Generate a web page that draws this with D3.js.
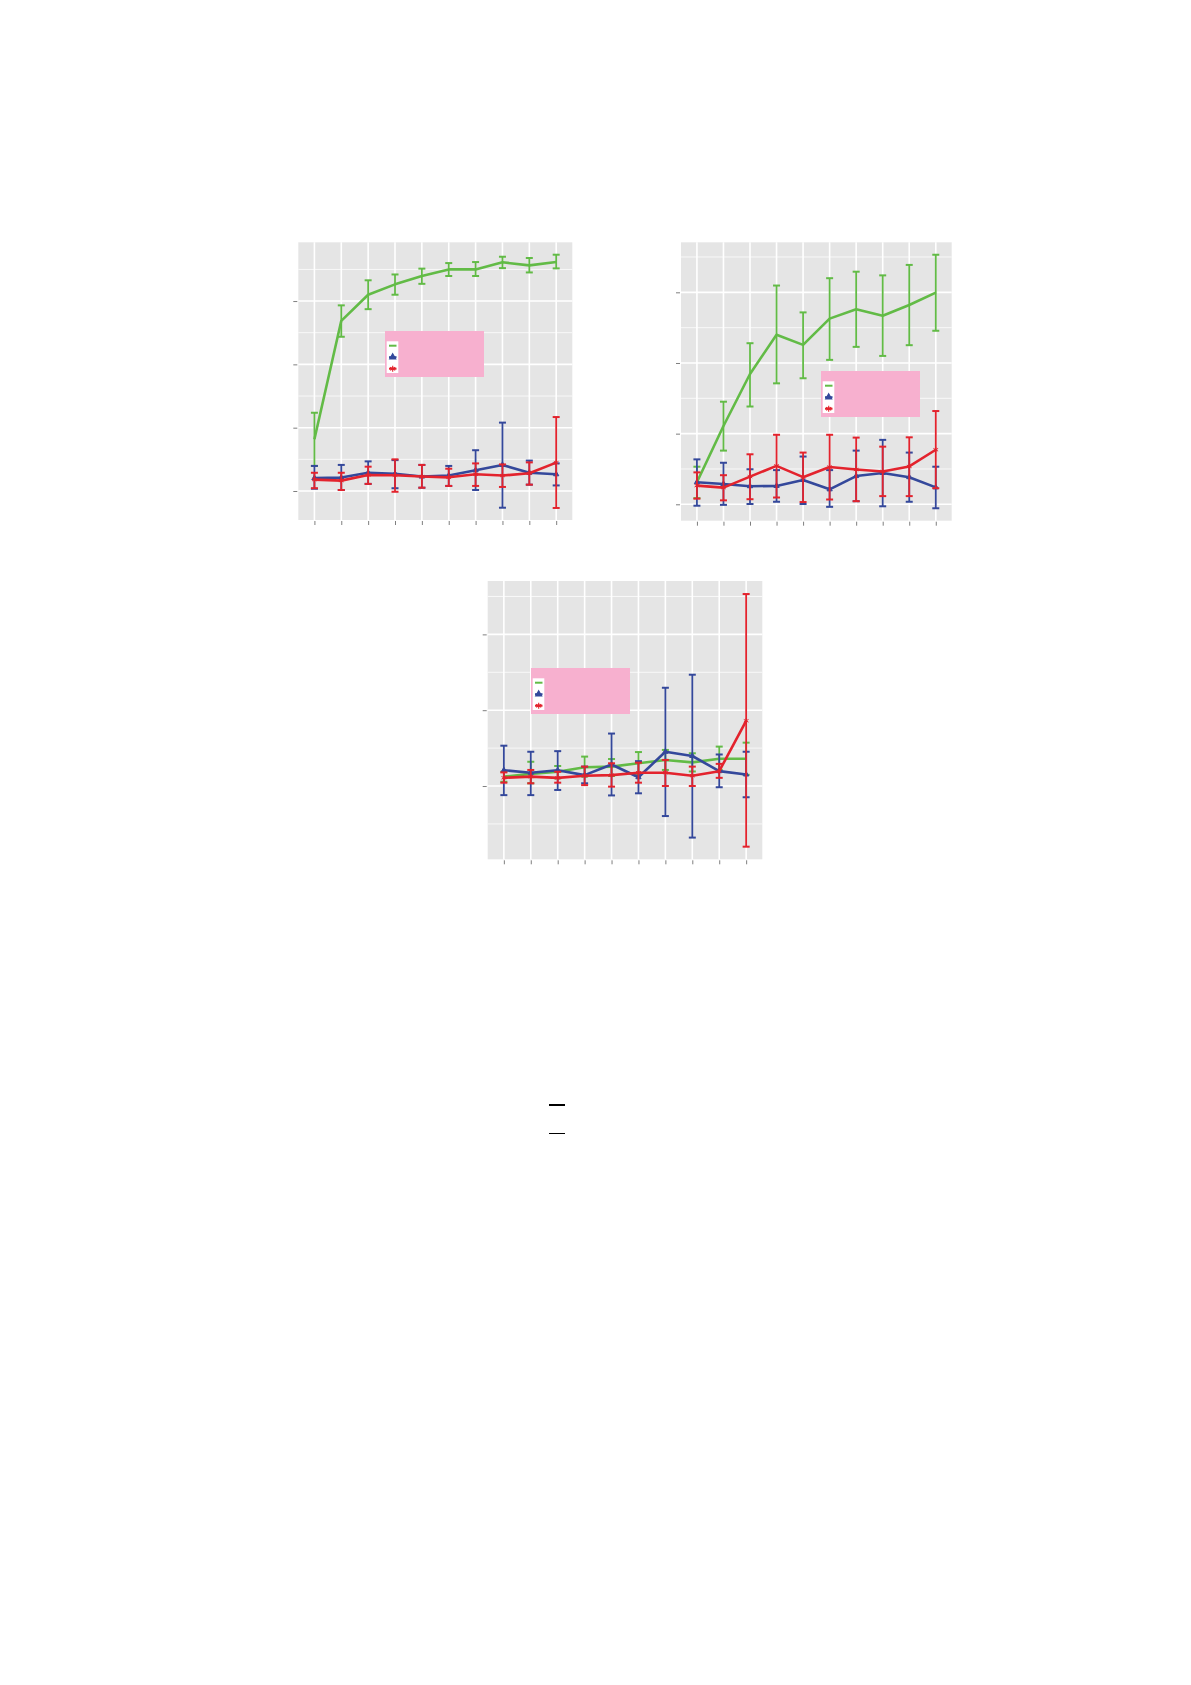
<!DOCTYPE html>
<html>
<head>
<meta charset="utf-8">
<script src="https://cdn.jsdelivr.net/npm/d3@7/dist/d3.min.js"></script>
<style>
  body { margin: 0; background: #fff; }
  svg { display: block; }
</style>
</head>
<body>
<svg id="chart" width="1191" height="1685"></svg>
<script>
// trial steps on the x axis
var steps = [1, 2, 3, 4, 5, 6, 7, 8, 9, 10];
var yTicks = [0, 0.25, 0.5, 0.75];

// panel 1 (top left)
var p1Green   = [0.204, 0.672, 0.775, 0.816, 0.849, 0.875, 0.875, 0.903, 0.891, 0.904];
var p1GreenLo = [0.099, 0.609, 0.718, 0.775, 0.818, 0.849, 0.849, 0.880, 0.863, 0.879];
var p1GreenHi = [0.309, 0.733, 0.832, 0.855, 0.878, 0.900, 0.904, 0.925, 0.920, 0.933];
var p1Blue    = [0.051, 0.053, 0.072, 0.068, 0.057, 0.061, 0.082, 0.103, 0.072, 0.066];
var p1BlueLo  = [0.009, 0.004, 0.028, 0.011, 0.013, 0.020, 0.004, -0.066, 0.025, 0.022];
var p1BlueHi  = [0.099, 0.103, 0.117, 0.122, 0.103, 0.099, 0.161, 0.270, 0.120, 0.109];
var p1Red     = [0.045, 0.041, 0.063, 0.062, 0.057, 0.054, 0.066, 0.061, 0.070, 0.112];
var p1RedLo   = [0.011, 0.004, 0.028, -0.003, 0.013, 0.020, 0.020, 0.016, 0.025, -0.067];
var p1RedHi   = [0.072, 0.072, 0.096, 0.125, 0.103, 0.088, 0.109, 0.105, 0.113, 0.292];

// panel 2 (top right)
var p2Green   = [0.078, 0.277, 0.461, 0.600, 0.564, 0.657, 0.690, 0.667, 0.705, 0.749];
var p2GreenLo = [0.022, 0.190, 0.346, 0.428, 0.446, 0.511, 0.557, 0.525, 0.563, 0.614];
var p2GreenHi = [0.133, 0.363, 0.570, 0.774, 0.679, 0.800, 0.823, 0.810, 0.847, 0.883];
var p2Blue    = [0.078, 0.072, 0.064, 0.065, 0.086, 0.053, 0.100, 0.111, 0.096, 0.060];
var p2BlueLo  = [-0.005, -0.002, 0.001, 0.009, 0.001, -0.009, 0.011, -0.007, 0.009, -0.014];
var p2BlueHi  = [0.159, 0.147, 0.124, 0.121, 0.169, 0.121, 0.190, 0.228, 0.183, 0.133];
var p2Red     = [0.066, 0.059, 0.098, 0.136, 0.096, 0.132, 0.123, 0.116, 0.134, 0.193];
var p2RedLo   = [0.020, 0.014, 0.018, 0.024, 0.008, 0.017, 0.011, 0.029, 0.029, 0.057];
var p2RedHi   = [0.113, 0.103, 0.177, 0.246, 0.183, 0.246, 0.236, 0.204, 0.237, 0.330];

// panel 3 (bottom)
var p3Green   = [0.031, 0.040, 0.047, 0.062, 0.064, 0.075, 0.086, 0.078, 0.090, 0.090];
var p3GreenLo = [0.014, 0.009, 0.025, 0.031, 0.033, 0.037, 0.053, 0.048, 0.053, 0.037];
var p3GreenHi = [0.047, 0.080, 0.066, 0.097, 0.089, 0.112, 0.119, 0.108, 0.130, 0.143];
var p3Blue    = [0.052, 0.044, 0.052, 0.036, 0.071, 0.029, 0.113, 0.099, 0.049, 0.038];
var p3BlueLo  = [-0.030, -0.030, -0.013, 0.009, -0.031, -0.024, -0.099, -0.170, -0.004, -0.037];
var p3BlueHi  = [0.133, 0.113, 0.115, 0.064, 0.173, 0.082, 0.324, 0.367, 0.104, 0.113];
var p3Red     = [0.027, 0.031, 0.027, 0.034, 0.036, 0.044, 0.044, 0.034, 0.049, 0.215];
var p3RedLo   = [0.011, 0.009, 0.011, 0.003, -0.002, 0.011, 0.000, 0.000, 0.027, -0.200];
var p3RedHi   = [0.045, 0.053, 0.047, 0.064, 0.075, 0.077, 0.086, 0.064, 0.073, 0.633];

var colors = { green: "#62bb46", blue: "#34489b", red: "#e3232d" };

var svg = d3.select("#chart");

// build one ggplot-like panel
function drawPanel(box, yDomain, ticks, series, legendPos) {
    var x = d3.scaleLinear().domain([0.4, 10.6]).range([box.x0, box.x1]);
    var y = d3.scaleLinear().domain(yDomain).range([box.y1, box.y0]);
    var g = svg.append("g");

    g.append("rect")
        .attr("x", box.x0).attr("y", box.y0)
        .attr("width", box.x1 - box.x0).attr("height", box.y1 - box.y0)
        .attr("fill", "#e5e5e5");

    // minor grid halfway between major ticks
    var half = (ticks[1] - ticks[0]) / 2;
    var minor = d3.range(-6, 8).map(k => ticks[0] + half * (2 * k + 1))
        .filter(v => v > yDomain[0] && v < yDomain[1]);

    g.selectAll(".minor").data(minor).enter().append("line")
        .attr("x1", box.x0).attr("x2", box.x1)
        .attr("y1", d => y(d)).attr("y2", d => y(d))
        .attr("stroke", "#fafafa").attr("stroke-width", 0.9);

    g.selectAll(".major").data(ticks).enter().append("line")
        .attr("x1", box.x0).attr("x2", box.x1)
        .attr("y1", d => y(d)).attr("y2", d => y(d))
        .attr("stroke", "#fff").attr("stroke-width", 1.6);

    g.selectAll(".vgrid").data(steps).enter().append("line")
        .attr("x1", d => x(d)).attr("x2", d => x(d))
        .attr("y1", box.y0).attr("y2", box.y1)
        .attr("stroke", "#fff").attr("stroke-width", 1.6);

    // axes: ticks only, labels are blank
    var yAxis = g.append("g")
        .attr("transform", `translate(${box.x0 - 1},0)`)
        .call(d3.axisLeft(y).tickValues(ticks).tickSize(4).tickFormat(""));
    var xAxis = g.append("g")
        .attr("transform", `translate(0,${box.y1 + 1})`)
        .call(d3.axisBottom(x).tickValues(steps).tickSize(4).tickFormat(""));
    [yAxis, xAxis].forEach(a => {
        a.select(".domain").remove();
        a.selectAll(".tick line").attr("stroke", "#7f7f7f").attr("stroke-width", 1);
    });

    var line = d3.line().x((d, i) => x(steps[i])).y(d => y(d));

    series.forEach(s => {
        var sg = g.append("g");
        var bars = steps.map((t, i) => ({ t: t, lo: s.lo[i], hi: s.hi[i] }));
        sg.selectAll(".err").data(bars).enter().append("line")
            .attr("x1", d => x(d.t)).attr("x2", d => x(d.t))
            .attr("y1", d => y(d.lo)).attr("y2", d => y(d.hi))
            .attr("stroke", s.color).attr("stroke-width", 1.8);
        ["lo", "hi"].forEach(k => {
            sg.selectAll(".cap-" + k).data(bars).enter().append("line")
                .attr("x1", d => x(d.t) - 3.5).attr("x2", d => x(d.t) + 3.5)
                .attr("y1", d => y(d[k])).attr("y2", d => y(d[k]))
                .attr("stroke", s.color).attr("stroke-width", 2);
        });
        sg.append("path")
            .attr("d", line(s.mean))
            .attr("fill", "none")
            .attr("stroke", s.color)
            .attr("stroke-width", 2.6)
            .attr("stroke-linejoin", "round");
        if (s.shape) {
            sg.selectAll(".pt").data(s.mean).enter().append("path")
                .attr("transform", (d, i) => `translate(${x(steps[i])},${y(d)})`)
                .attr("d", d3.symbol().type(s.shape).size(s.shape === d3.symbolTriangle ? 12 : 20))
                .attr("fill", s.shape === d3.symbolTriangle ? s.color : "none")
                .attr("stroke", s.color)
                .attr("stroke-width", 1);
        }
    });

    // legend box (labels blank)
    var lg = g.append("g").attr("transform", `translate(${legendPos.x},${legendPos.y})`);
    lg.append("rect").attr("width", 99).attr("height", 46).attr("fill", "#f7b0cf");
    lg.append("rect").attr("x", 1.7).attr("y", 10.3).attr("width", 11.6).attr("height", 31.7).attr("fill", "#fff");
    series.forEach((s, i) => {
        var cy = 14.7 + i * 11.5;
        lg.append("line")
            .attr("x1", 4).attr("x2", 11.5).attr("y1", cy).attr("y2", cy)
            .attr("stroke", s.color).attr("stroke-width", 2);
        if (s.shape) {
            lg.append("path")
                .attr("transform", `translate(7.7,${cy})`)
                .attr("d", d3.symbol().type(s.shape).size(s.shape === d3.symbolTriangle ? 16 : 24))
                .attr("fill", s.shape === d3.symbolTriangle ? s.color : "none")
                .attr("stroke", s.color)
                .attr("stroke-width", 1.1);
        }
    });
}

function seriesFor(gm, gl, gh, bm, bl, bh, rm, rl, rh) {
    return [
        { mean: gm, lo: gl, hi: gh, color: colors.green, shape: null },
        { mean: bm, lo: bl, hi: bh, color: colors.blue, shape: d3.symbolTriangle },
        { mean: rm, lo: rl, hi: rh, color: colors.red, shape: d3.symbolAsterisk }
    ];
}

drawPanel({ x0: 298.3, x1: 572.3, y0: 242.3, y1: 520 }, [-0.1145, 0.982], yTicks,
    seriesFor(p1Green, p1GreenLo, p1GreenHi, p1Blue, p1BlueLo, p1BlueHi, p1Red, p1RedLo, p1RedHi),
    { x: 385, y: 331 });

drawPanel({ x0: 681, x1: 951.7, y0: 242.3, y1: 520.7 }, [-0.058, 0.927], yTicks,
    seriesFor(p2Green, p2GreenLo, p2GreenHi, p2Blue, p2BlueLo, p2BlueHi, p2Red, p2RedLo, p2RedHi),
    { x: 821, y: 371 });

drawPanel({ x0: 487.7, x1: 762.3, y0: 581, y1: 859.3 }, [-0.2416, 0.676], [0, 0.25, 0.5],
    seriesFor(p3Green, p3GreenLo, p3GreenHi, p3Blue, p3BlueLo, p3BlueHi, p3Red, p3RedLo, p3RedHi),
    { x: 531, y: 668 });

// two short rules left in the text block below the figure
svg.append("rect").attr("x", 549).attr("y", 1104).attr("width", 16).attr("height", 2).attr("fill", "#000");
svg.append("rect").attr("x", 549).attr("y", 1133).attr("width", 16).attr("height", 1).attr("fill", "#000");
</script>
</body>
</html>
